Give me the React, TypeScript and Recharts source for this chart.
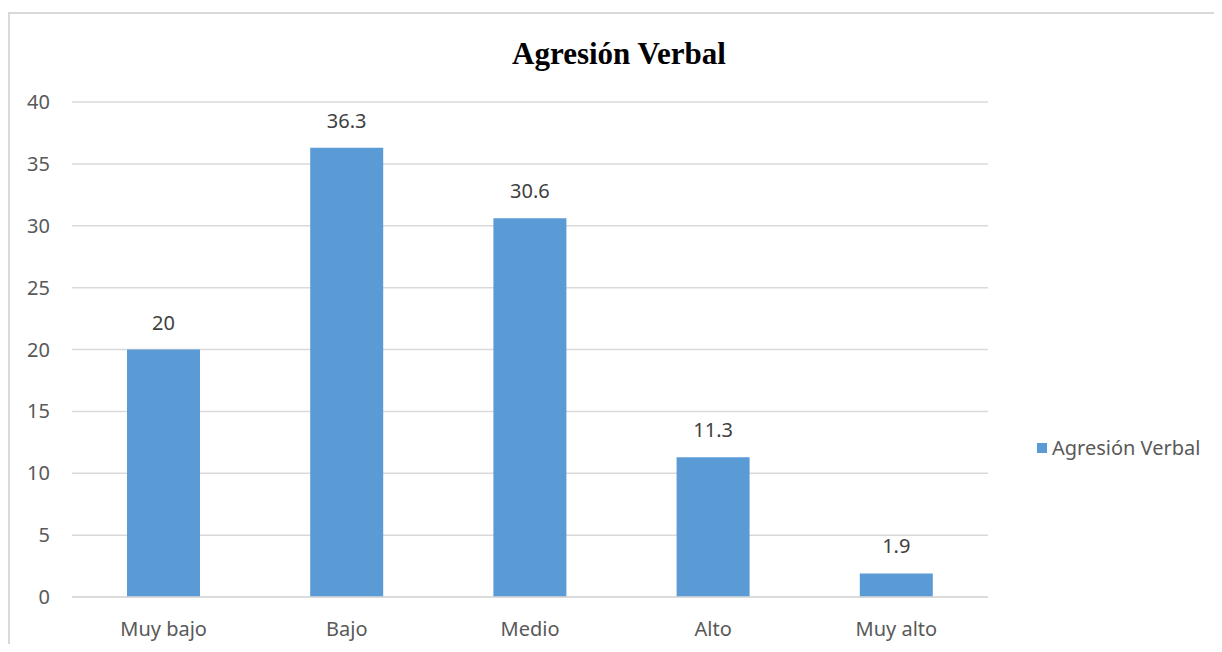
import React from "react";
import { BarChart, Bar, XAxis, YAxis, CartesianGrid, LabelList } from "recharts";

const categories = ["Muy bajo", "Bajo", "Medio", "Alto", "Muy alto"];
const values = [20, 36.3, 30.6, 11.3, 1.9];
const yTicks = [0, 5, 10, 15, 20, 25, 30, 35, 40];
const seriesName = "Agresión Verbal";
const title = "Agresión Verbal";

const data = categories.map((c, i) => ({ name: c, value: values[i] }));

const FONT = "'Noto Sans', 'Open Sans', sans-serif";

export default function App() {
  return (
    <div style={{ position: "relative", width: 1222, height: 652, margin: -8, background: "#fff", overflow: "hidden" }}>
      <div
        style={{
          position: "absolute",
          left: 8,
          top: 12,
          width: 1300,
          height: 700,
          border: "2px solid #D9D9D9",
          boxSizing: "border-box",
        }}
      />
      <div
        style={{
          position: "absolute",
          left: 0,
          width: 1238,
          top: 36,
          textAlign: "center",
          fontFamily: "'Liberation Serif', 'Times New Roman', serif",
          fontWeight: "bold",
          fontSize: 31,
          color: "#000",
          lineHeight: "36px",
        }}
      >
        {title}
      </div>
      <div style={{ position: "absolute", left: 0, top: 0 }}>
        <BarChart width={1222} height={652} data={data} margin={{ top: 102, right: 234, bottom: 20, left: 0 }}>
          <CartesianGrid vertical={false} stroke="#D9D9D9" strokeWidth={1.5} />
          <XAxis
            dataKey="name"
            axisLine={{ stroke: "#D9D9D9", strokeWidth: 1.5 }}
            tickLine={false}
            tickSize={0}
            tickMargin={25}
            height={35}
            tick={{ fill: "#595959", fontSize: 20, fontFamily: FONT }}
          />
          <YAxis
            width={72}
            domain={[0, 40]}
            ticks={yTicks}
            axisLine={false}
            tickLine={false}
            tickSize={0}
            tickMargin={22}
            tick={{ fill: "#595959", fontSize: 20, fontFamily: FONT }}
          />
          <Bar dataKey="value" name={seriesName} fill="#5B9BD5" barSize={73} isAnimationActive={false}>
            <LabelList dataKey="value" position="top" offset={20} fill="#404040" fontSize={20} fontFamily={FONT} />
          </Bar>
        </BarChart>
      </div>
      <div
        style={{
          position: "absolute",
          left: 1037,
          top: 434,
          display: "flex",
          alignItems: "center",
          fontFamily: FONT,
          fontSize: 20,
          color: "#595959",
          lineHeight: "28px",
        }}
      >
        <span style={{ display: "inline-block", width: 10, height: 10, background: "#5B9BD5", marginRight: 5 }} />
        <span>{seriesName}</span>
      </div>
    </div>
  );
}
